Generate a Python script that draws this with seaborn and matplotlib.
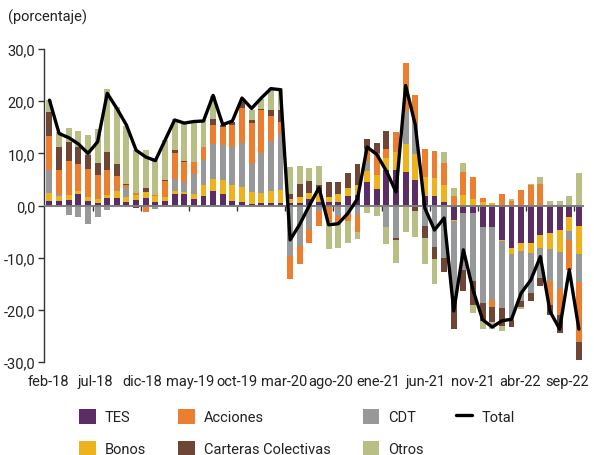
import numpy as np
import pandas as pd
import matplotlib
matplotlib.use("Agg")
import matplotlib.pyplot as plt
import matplotlib.transforms as mtransforms
import seaborn as sns
from matplotlib.patches import Patch
from matplotlib.lines import Line2D

# ---- data (percent) -------------------------------------------------------
month_abbr = ["ene", "feb", "mar", "abr", "may", "jun",
              "jul", "ago", "sep", "oct", "nov", "dic"]
years = [18, 19, 20, 21, 22]
months = [f"{m}-{y}" for y in years for m in month_abbr]
months = months[months.index("feb-18"):months.index("sep-22") + 1]

tick_labels = ["feb-18", "jul-18", "dic-18", "may-19", "oct-19", "mar-20",
               "ago-20", "ene-21", "jun-21", "nov-21", "abr-22", "sep-22"]

tes = [0.9, 0.9, 1.0, 2.2, 0.9, 0.5, 1.5, 1.5, 0.7, 1.0, 1.5, 0.7,
       0.9, 2.2, 2.2, 1.3, 1.8, 2.7, 2.2, 0.9, 0.6, 0.3, 0.5, 0.5,
       0.5, 0.4, 0.5, 1.2, 0.7, 0.7, 0.7, 1.8, 2.0, 4.5, 3.1, 6.9,
       6.9, 6.4, 4.8, 1.8, 1.9, 0.7, -2.7, -1.4, -1.4, -4.1, -4.1, -6.6,
       -8.2, -7.2, -7.2, -5.7, -5.3, -4.7, -2.3, -3.9]
bonos = [1.5, 1.0, 1.0, 0.6, 0.7, 0.7, 0.6, 1.2, 1.0, 1.1, 1.1, 1.1,
         0.8, 0.6, 0.4, 1.0, 2.1, 2.4, 2.7, 3.0, 3.0, 2.2, 1.9, 2.2,
         2.5, 0.8, 1.1, 1.2, 1.9, 1.0, 1.5, 1.5, 2.0, 2.2, 2.7, 2.3,
         3.4, 5.4, 5.0, 3.7, 3.4, 3.3, -0.3, 2.0, 1.3, 0.7, 0.4, -0.3,
         -1.1, -1.5, -2.0, -2.5, -3.0, -4.3, -2.5, -5.4]
cdt = [4.4, 0.3, -1.8, -2.3, -3.6, -2.3, -0.8, 0.3, 1.6, 0.0, 0.0, -0.6,
       0.0, 2.2, 1.9, 3.8, 4.9, 6.7, 6.7, 7.3, 8.4, 5.5, 7.6, 9.7,
       10.7, -9.6, -7.8, -4.6, -1.0, 0.0, -2.1, -1.5, -1.8, 1.6, 0.0, -4.2,
       -6.3, 6.3, 5.8, -3.9, -7.9, -10.0, -14.4, -10.9, -13.0, -14.6, -14.0, -12.7,
       -12.6, -9.7, -7.6, -5.7, -6.2, -7.0, -1.8, -5.4]
acciones = [6.5, 4.6, 6.5, 5.1, 5.4, 4.6, 4.8, 2.7, 0.6, 0.3, -1.2, 0.2,
            3.0, 5.1, 3.8, 2.3, 2.4, 3.6, 3.4, 4.3, 6.7, 7.9, 8.3, 4.8,
            2.4, -4.4, -3.5, -2.5, -3.0, -3.2, -1.0, -1.5, -3.2, 2.5, 4.3, 1.7,
            3.7, 9.3, 5.6, 5.4, 5.1, 4.1, 1.8, 4.4, 4.1, 0.8, -1.3, 2.2,
            0.9, 3.0, 3.9, 4.2, -4.5, -4.9, -5.7, -11.4]
carteras = [4.6, 4.4, 3.7, 3.4, 2.6, 2.3, 3.3, 2.3, 0.3, -0.4, 0.7, 0.0,
            0.2, 0.5, 0.3, 0.0, 0.0, 1.1, 0.4, 0.5, 1.1, 0.5, 0.2, 1.1,
            2.2, 1.0, 2.5, 2.3, 1.3, 2.8, 2.3, 3.0, 4.0, 1.9, 1.8, 3.4,
            -0.4, 0.0, -1.0, -2.3, -2.3, -2.7, -6.2, -4.1, -4.6, -3.5, -2.9, -3.5,
            -1.3, -1.0, -1.5, -1.5, -2.0, -3.6, 0.0, -3.6]
otros = [2.4, 2.9, 2.7, 3.0, 4.0, 6.5, 12.2, 10.9, 11.0, 8.3, 7.3, 6.7,
         7.6, 6.0, 7.3, 7.8, 5.1, 4.4, 0.0, 0.0, 0.5, 2.0, 1.9, 4.2,
         4.3, 5.1, 3.4, 2.5, 3.7, -5.1, -5.0, -4.2, -1.5, -1.4, -2.0, -3.2,
         -4.3, -5.0, -5.0, -5.1, -4.8, 2.2, 1.5, 1.8, -1.7, -1.5, -1.3, -1.0,
         0.3, -0.5, 0.3, 1.3, 0.9, 0.9, 1.9, 6.3]
total = [20.2, 13.8, 13.0, 11.8, 10.0, 12.2, 21.5, 18.6, 15.4, 10.6, 9.3, 8.6,
         12.5, 16.4, 15.8, 16.1, 16.2, 21.1, 15.5, 16.2, 20.6, 18.6, 20.6, 22.4,
         22.2, -6.6, -3.6, 0.0, 3.4, -3.7, -3.5, -1.5, 1.3, 11.2, 9.8, 6.6,
         2.6, 23.0, 15.5, -0.5, -4.7, -2.4, -20.2, -8.5, -16.2, -21.9, -23.3, -22.1,
         -21.8, -16.8, -14.3, -9.8, -20.3, -23.7, -12.3, -23.7]

series = [
    ("TES", tes, "#5A2D64"),
    ("Bonos", bonos, "#EDB21C"),
    ("CDT", cdt, "#97989A"),
    ("Acciones", acciones, "#EB7F2F"),
    ("Carteras Colectivas", carteras, "#6F4535"),
    ("Otros", otros, "#B8BE84"),
]

# ---- figure ---------------------------------------------------------------
sns.set_theme(style="white")
plt.rcParams["font.family"] = ["Roboto", "DejaVu Sans"]

W, H = 594, 456
fig = plt.figure(figsize=(W / 100, H / 100), dpi=100)
ax = fig.add_axes([43.7 / W, 1 - 363 / H, 540 / W, 313 / H])

x = np.arange(len(months))
pos = np.zeros(len(x))
neg = np.zeros(len(x))
for name, vals, color in series:
    v = np.array(vals, dtype=float)
    bottom = np.where(v >= 0, pos, neg)
    ax.bar(x, v, width=0.62, bottom=bottom, color=color, linewidth=0, zorder=2)
    pos += np.where(v >= 0, v, 0)
    neg += np.where(v < 0, v, 0)

ax.axhline(0, color="#7F7F7F", lw=1.4, zorder=3)

df = pd.DataFrame({"x": x, "Total": total})
sns.lineplot(data=df, x="x", y="Total", color="black", lw=2.4, ax=ax,
             zorder=4, sort=False)

ax.set_xlim(-0.6, 55.5)
ax.set_ylim(-30, 30)
yt = np.arange(-30, 31, 10)
ax.set_yticks(yt)
ax.set_yticklabels([f"{v:.1f}".replace(".", ",") for v in yt], fontsize=10.5,
                   color="#222222")
ax.set_xticks(np.arange(0, len(x), 5))
ax.set_xticklabels(tick_labels, fontsize=10.5, color="#222222")
ax.tick_params(axis="x", length=0, pad=9)
ax.tick_params(axis="y", length=4, width=1, color="#333333", pad=2,
               direction="out", left=True)
# labels spread slightly tighter than the bars, as in the original
n_lab = len(tick_labels)
for k, lab in enumerate(ax.get_xticklabels()):
    dx = -(1.0 + 7.5 * k / (n_lab - 1)) / 72.0
    lab.set_transform(lab.get_transform() +
                      mtransforms.ScaledTranslation(dx, 0, fig.dpi_scale_trans))
ax.set_xlabel("")
ax.set_ylabel("")
for s in ["top", "right", "bottom"]:
    ax.spines[s].set_visible(False)
ax.spines["left"].set_color("#333333")
ax.spines["left"].set_linewidth(1.0)

# small category ticks along the zero line
sec = ax.secondary_xaxis(0.5)
sec.set_xticks(np.arange(4.5, len(x), 5))
sec.set_xticklabels([])
sec.tick_params(axis="x", direction="in", length=4, width=1, color="#333333")
for s in sec.spines.values():
    s.set_visible(False)

fig.text(8 / W, 1 - 17 / H, "(porcentaje)", fontsize=10.5, color="#222222",
         ha="left", va="center")

colors = {n: c for n, _, c in series}
order = ["TES", "Bonos", "Acciones", "Carteras Colectivas", "CDT", "Otros"]
handles = [Patch(facecolor=colors[n], edgecolor="none") for n in order]
handles.append(Line2D([], [], color="black", lw=2.4))
labels = order + ["Total"]
fig.legend(handles, labels, ncol=4, loc="upper left",
           bbox_to_anchor=(72 / W, 1 - 403 / H), frameon=False, fontsize=10.5,
           handlelength=1.15, handleheight=1.15, handletextpad=0.6,
           columnspacing=2.2, labelspacing=1.12, borderpad=0,
           labelcolor="#222222")

fig.savefig("out.png", dpi=100)
